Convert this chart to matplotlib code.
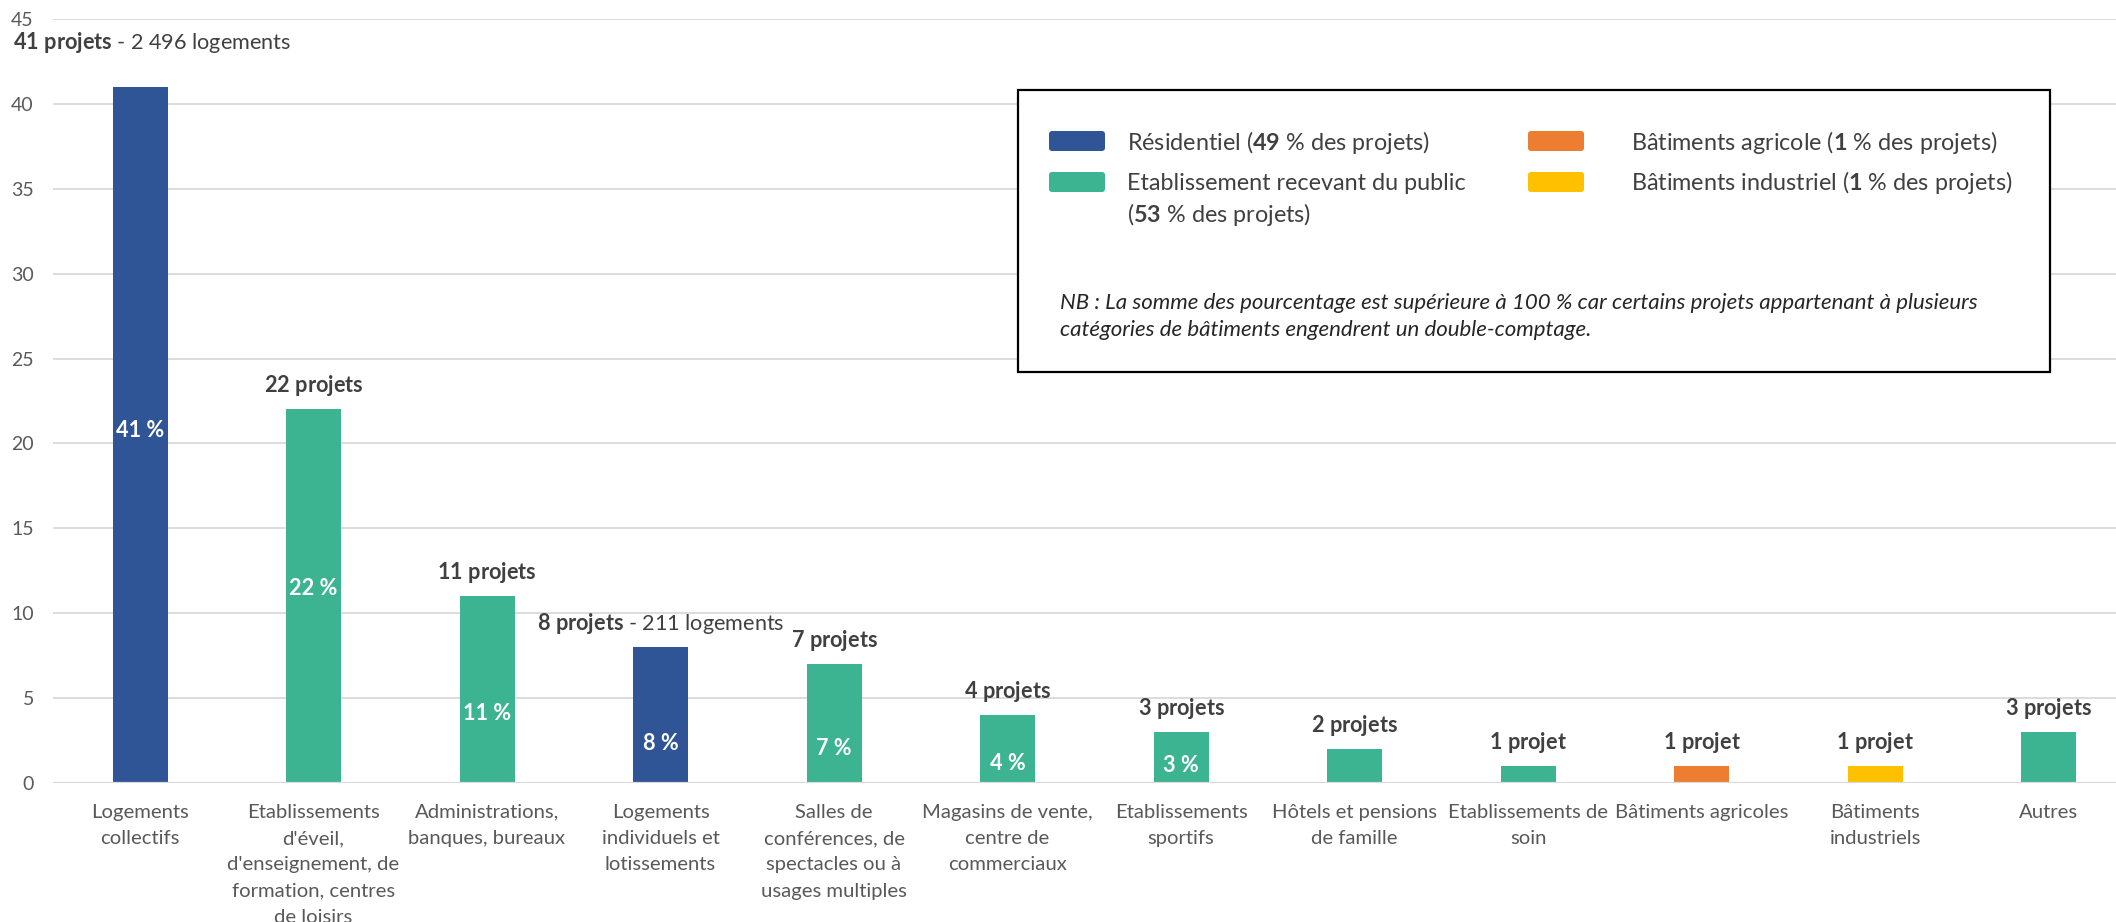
import matplotlib
matplotlib.use("Agg")
import matplotlib.pyplot as plt
from matplotlib.patches import Rectangle, FancyBboxPatch
from matplotlib.transforms import IdentityTransform

# ---- data -----------------------------------------------------------------
categories = [
    "Logements\ncollectifs",
    "Etablissements\nd'éveil,\nd'enseignement, de\nformation, centres\nde loisirs",
    "Administrations,\nbanques, bureaux",
    "Logements\nindividuels et\nlotissements",
    "Salles de\nconférences, de\nspectacles ou à\nusages multiples",
    "Magasins de vente,\ncentre de\ncommerciaux",
    "Etablissements\nsportifs",
    "Hôtels et pensions\nde famille",
    "Etablissements de\nsoin",
    "Bâtiments agricoles",
    "Bâtiments\nindustriels",
    "Autres",
]
projects = [41, 22, 11, 8, 7, 4, 3, 2, 1, 1, 1, 3]
shares = [41, 22, 11, 8, 7, 4, 3]          # % of projects, first categories
groups = ["res", "erp", "erp", "res", "erp", "erp", "erp",
          "erp", "erp", "agri", "indus", "erp"]
dwellings = {0: "2 496", 3: "211"}

legend_groups = ["res", "erp", "agri", "indus"]
legend_names = ["Résidentiel", "Etablissement recevant du public",
                "Bâtiments agricole", "Bâtiments industriel"]
legend_shares = [49, 53, 1, 1]
yticks = list(range(0, 46, 5))

# ---- style ----------------------------------------------------------------
W, H = 2116, 922
colors = {"res": "#2F5597", "erp": "#3CB491", "agri": "#ED7D31", "indus": "#FFC000"}
TXT = "#404040"
TICK = "#595959"
FS_TICK = 14.6
FS_LAB = 15.6
FS_LEG = 16.8
FS_NB = 16.0

plt.rcParams["font.family"] = ["Lato", "DejaVu Sans"]
plt.rcParams["mathtext.fontset"] = "custom"
plt.rcParams["mathtext.rm"] = "Lato"
plt.rcParams["mathtext.bf"] = "Lato:bold"
plt.rcParams["mathtext.it"] = "Lato:italic"

fig = plt.figure(figsize=(W / 100, H / 100), dpi=100)
fig.patch.set_facecolor("white")

# plot area: category pitch ~173.5 px, zero line at y=783, 45 at y=19
x0, pitch = 53.3, 173.5
y0, ytop = 783, 19
ax = fig.add_axes([x0 / W, (H - y0) / H, pitch * len(categories) / W, (y0 - ytop) / H])

xs = list(range(len(categories)))
ax.bar(xs, projects, width=0.317, color=[colors[g] for g in groups], zorder=2)

ax.set_xlim(-0.5, len(categories) - 0.5)
ax.set_ylim(0, 45)
ax.set_yticks(yticks)
ax.set_xticks(xs)
ax.set_xticklabels(categories, fontsize=FS_TICK, color=TICK, linespacing=1.66)
ax.tick_params(axis="x", length=0, pad=15)
ax.tick_params(axis="y", length=0, pad=14, labelsize=FS_TICK - 0.6, labelcolor=TICK)
for s in ax.spines.values():
    s.set_visible(False)
ax.grid(axis="y", color="#D9D9D9", lw=1.3, zorder=0)
ax.set_axisbelow(True)
ax.axhline(0, color="#D9D9D9", lw=1.6, zorder=3)

# value labels above bars
for i, n in enumerate(projects):
    word = "projets" if n > 1 else "projet"
    if i in dwellings:
        label = rf"$\bf{{{n}\ {word}}}$ - {dwellings[i]} logements"
    else:
        label = rf"$\bf{{{n}\ {word}}}$"
    if i == 0:
        ax.annotate(label, xy=(i, n), xytext=(-127, 44), textcoords="offset pixels",
                    ha="left", va="center", fontsize=FS_LAB, color=TXT)
    else:
        ax.annotate(label, xy=(i, n), xytext=(0, 24), textcoords="offset pixels",
                    ha="center", va="center", fontsize=FS_LAB, color=TXT)

# share labels inside bars
share_label_y = [20.75, 11.47, 4.12, 2.35, 2.06, 1.16, 1.04]
for i, (s, yy) in enumerate(zip(shares, share_label_y)):
    ax.text(i, yy, f"{s} %", ha="center", va="center", color="white",
            fontweight="bold", fontsize=FS_LAB, zorder=4)


# ---- legend box -----------------------------------------------------------
def fx(x):
    return x / W


def fy(y):
    return 1 - y / H


box = Rectangle((fx(1018), fy(372)), (2050 - 1018) / W, (372 - 90) / H,
                transform=fig.transFigure, facecolor="white", edgecolor="black",
                lw=1.6, zorder=5)
fig.add_artist(box)

sw_x = [1049, 1049, 1528, 1528]
sw_y = [141, 182, 141, 182]
tx_x = [1127, 1127, 1631, 1631]
for g, name, sh, sx, sy, tx in zip(legend_groups, legend_names, legend_shares, sw_x, sw_y, tx_x):
    p = FancyBboxPatch((sx, H - sy - 10), 56, 20, boxstyle="round,pad=0,rounding_size=3",
                       transform=IdentityTransform(), facecolor=colors[g],
                       edgecolor="none", zorder=6)
    fig.add_artist(p)
    if g == "erp":
        fig.text(fx(tx), fy(sy + 1), name, ha="left", va="center",
                 fontsize=FS_LEG, color=TXT, zorder=6)
        fig.text(fx(tx), fy(sy + 32), rf"($\bf{{{sh}}}$ % des projets)", ha="left",
                 va="center", fontsize=FS_LEG, color=TXT, zorder=6)
    else:
        fig.text(fx(tx), fy(sy + 1), rf"{name} ($\bf{{{sh}}}$ % des projets)",
                 ha="left", va="center", fontsize=FS_LEG, color=TXT, zorder=6)

fig.text(fx(1060), fy(303),
         "NB : La somme des pourcentage est supérieure à 100 % car certains projets "
         "appartenant à plusieurs",
         ha="left", va="center", fontsize=FS_NB, style="italic", color="#262626", zorder=6)
fig.text(fx(1060), fy(330),
         "catégories de bâtiments engendrent un double-comptage.",
         ha="left", va="center", fontsize=FS_NB, style="italic", color="#262626", zorder=6)

fig.savefig("out.png", dpi=100, facecolor="white")
